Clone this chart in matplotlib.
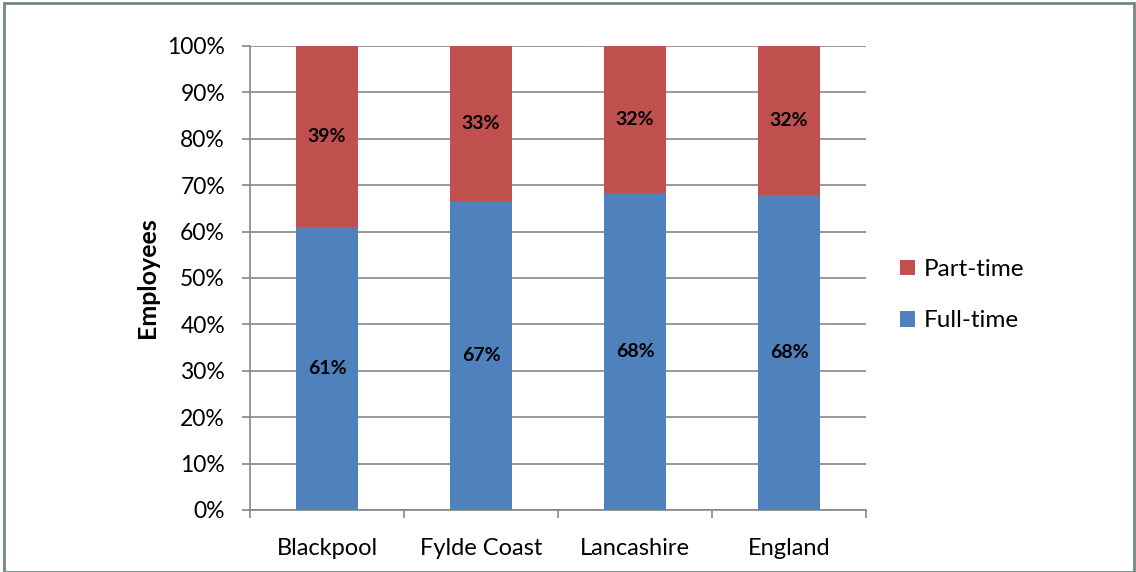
import numpy as np
import matplotlib.pyplot as plt
from matplotlib.patches import Rectangle

# data
areas = ['Blackpool', 'Fylde Coast', 'Lancashire', 'England']
full_time = [0.61, 0.666, 0.683, 0.679]
part_time = [0.39, 0.334, 0.317, 0.321]
full_labels = ['61%', '67%', '68%', '68%']
part_labels = ['39%', '33%', '32%', '32%']

plt.rcParams['font.family'] = ['Lato', 'DejaVu Sans']

fig = plt.figure(figsize=(11.36, 5.72), dpi=100)
ax = fig.add_axes([250 / 1136, 1 - 510 / 572, 616 / 1136, 464 / 572])

x = np.arange(len(areas))
blue = '#4F81BD'
red = '#C0504D'
b1 = ax.bar(x, full_time, width=0.4, color=blue, label='Full-time', zorder=3)
b2 = ax.bar(x, part_time, width=0.4, bottom=full_time, color=red, label='Part-time', zorder=3)

for i in range(len(areas)):
    ax.text(x[i], full_time[i] / 2, full_labels[i], ha='center', va='center',
            fontsize=14, fontweight='bold', zorder=4)
    ax.text(x[i], full_time[i] + part_time[i] / 2, part_labels[i], ha='center', va='center',
            fontsize=14, fontweight='bold', zorder=4)

ax.set_xlim(-0.5, len(areas) - 0.5)
ax.set_ylim(0, 1)
ax.set_yticks(np.arange(0, 1.01, 0.1))
ax.set_yticklabels(['%d%%' % v for v in range(0, 101, 10)], fontsize=16.5)
ax.set_xticks(x)
ax.set_xticklabels(areas, fontsize=17)
ax.set_xticks(np.arange(-0.5, len(areas), 1), minor=True)
ax.tick_params(axis='x', which='major', length=0, pad=20)
ax.tick_params(axis='x', which='minor', length=6, color='#868686', width=1.2)
ax.tick_params(axis='y', length=6, color='#868686', width=1.2, pad=12)

ax.grid(axis='y', color='#868686', linewidth=1.2, zorder=0)
for s in ['top', 'right']:
    ax.spines[s].set_visible(False)
for s in ['left', 'bottom']:
    ax.spines[s].set_color('#868686')
    ax.spines[s].set_linewidth(1.2)

ax.set_ylabel('Employees', fontsize=18, fontweight='bold', labelpad=6)

ax.legend(handles=[b2, b1], loc='center left', bbox_to_anchor=(1.02, 0.463),
          frameon=False, fontsize=17.5, handlelength=0.6, handleheight=0.6,
          labelspacing=1.25, handletextpad=0.35)

fig.patches.append(Rectangle((4 / 1136, 0), 1 - 6 / 1136, 1 - 3 / 572,
                             transform=fig.transFigure, fill=False,
                             edgecolor='#6E8B7B', linewidth=2))

fig.savefig('out.png', dpi=100)
